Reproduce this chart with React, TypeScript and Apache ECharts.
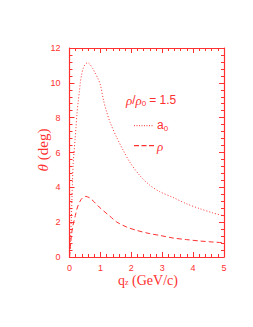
import React, { useEffect, useRef } from "react";
import * as echarts from "echarts";

const xTicks = [0, 1, 2, 3, 4, 5];
const yTicks = [0, 2, 4, 6, 8, 10, 12];

const a0Curve: [number, number][] = [
  [0, 0], [0.03, 0.9], [0.06, 2.2], [0.09, 4.0], [0.12, 5.4], [0.15, 6.1],
  [0.18, 6.75], [0.21, 7.45], [0.24, 8.2], [0.28, 8.9], [0.32, 9.5],
  [0.35, 10.0], [0.39, 10.45], [0.45, 10.87], [0.51, 11.06], [0.586, 11.16],
  [0.66, 11.06], [0.75, 10.83], [0.83, 10.56], [0.92, 10.25], [1.0, 9.88],
  [1.1, 9.0], [1.2, 8.35], [1.31, 7.75], [1.52, 6.89], [1.74, 6.12],
  [1.95, 5.45], [2.27, 4.69], [2.6, 4.12], [2.92, 3.75], [3.35, 3.42],
  [3.78, 3.06], [4.21, 2.78], [4.64, 2.53], [5.0, 2.36],
];

const rhoCurve: [number, number][] = [
  [0, 0], [0.03, 0.6], [0.06, 1.2], [0.1, 1.72], [0.15, 2.1], [0.19, 2.39],
  [0.26, 2.87], [0.37, 3.29], [0.51, 3.48], [0.64, 3.41], [0.8, 3.16],
  [0.96, 2.87], [1.18, 2.53], [1.31, 2.34], [1.52, 2.02], [1.85, 1.72],
  [2.17, 1.53], [2.6, 1.34], [2.92, 1.24], [3.35, 1.09], [3.78, 1.0],
  [4.21, 0.92], [4.64, 0.86], [5.0, 0.82],
];

const RED = "#ff3030";

export default function App() {
  const ref = useRef<HTMLDivElement>(null);
  useEffect(() => {
    document.body.style.margin = "0";
    const chart = echarts.init(ref.current!, null, { renderer: "svg" });
    const axisCommon = {
      axisLine: { show: true, onZero: false, lineStyle: { color: RED, width: 1.2 } },
      axisTick: { show: true, inside: true, length: 5, lineStyle: { color: RED, width: 1 } },
      minorTick: { show: true, splitNumber: 5, length: 3, lineStyle: { color: RED, width: 1 } },
      splitLine: { show: false },
    };
    const labelStyle = { color: RED, fontSize: 9, fontFamily: "Liberation Sans" };
    chart.setOption({
      animation: false,
      grid: { left: 69.5, right: 29, top: 48, bottom: 70 },
      xAxis: [
        {
          type: "value", min: 0, max: 5, interval: 1, position: "bottom",
          ...axisCommon,
          axisLabel: { ...labelStyle, margin: 6, formatter: (v: number) => (xTicks.includes(v) ? String(v) : "") },
        },
        {
          type: "value", min: 0, max: 5, interval: 1, position: "top",
          ...axisCommon, axisLabel: { show: false },
        },
      ],
      yAxis: [
        {
          type: "value", min: 0, max: 12, interval: 2, position: "left",
          ...axisCommon,
          axisLabel: { ...labelStyle, margin: 9, formatter: (v: number) => (yTicks.includes(v) ? String(v) : "") },
        },
        {
          type: "value", min: 0, max: 12, interval: 2, position: "right",
          ...axisCommon, axisLabel: { show: false },
        },
      ],
      series: [
        {
          type: "line", name: "a0", data: a0Curve, showSymbol: false, smooth: 0.3,
          lineStyle: { color: RED, width: 1, type: [1, 2] },
        },
        {
          type: "line", name: "rho", data: rhoCurve, showSymbol: false, smooth: 0.3,
          lineStyle: { color: RED, width: 1, type: [5, 3] },
        },
      ],
      graphic: [
        {
          type: "text", x: 126, y: 100,
          style: {
            text: "{i|ρ}{n|/}{i|ρ}{s|0}{n|= 1.5}",
            verticalAlign: "middle",
            rich: {
              i: { fill: RED, fontSize: 13, fontStyle: "italic", fontFamily: "Liberation Serif" },
              n: { fill: RED, fontSize: 12, fontFamily: "Liberation Sans" },
              s: { fill: RED, fontSize: 8, fontFamily: "Liberation Sans", padding: [6, 3, 0, 0] },
            },
          },
        },
        {
          type: "line", shape: { x1: 134, y1: 125.7, x2: 154, y2: 125.7 },
          style: { stroke: RED, lineWidth: 1, lineDash: [1, 1.5] },
        },
        {
          type: "text", x: 157, y: 125,
          style: {
            text: "{n|a}{s|0}", verticalAlign: "middle",
            rich: {
              n: { fill: RED, fontSize: 12, fontFamily: "Liberation Sans" },
              s: { fill: RED, fontSize: 8, fontFamily: "Liberation Sans", padding: [6, 0, 0, 0] },
            },
          },
        },
        {
          type: "line", shape: { x1: 134, y1: 145.7, x2: 154, y2: 145.7 },
          style: { stroke: RED, lineWidth: 1.2, lineDash: [5, 2.5] },
        },
        {
          type: "text", x: 157, y: 146,
          style: {
            text: "ρ", verticalAlign: "middle", fill: RED, fontSize: 13,
            fontStyle: "italic", fontFamily: "Liberation Serif",
          },
        },
        {
          type: "text", x: 148, y: 280,
          style: {
            text: "{n|q}{s|z}{n| (GeV/c)}", align: "center", verticalAlign: "middle",
            rich: {
              n: { fill: RED, fontSize: 14, fontFamily: "Liberation Serif" },
              s: { fill: RED, fontSize: 8, fontFamily: "Liberation Serif", padding: [4, 0, 0, 0] },
            },
          },
        },
        {
          type: "text", x: 42.5, y: 150, rotation: Math.PI / 2,
          style: {
            text: "{i|θ}{n| (deg)}", align: "center", verticalAlign: "middle",
            rich: {
              i: { fill: RED, fontSize: 15, fontStyle: "italic", fontFamily: "Liberation Serif" },
              n: { fill: RED, fontSize: 15, fontFamily: "Liberation Serif" },
            },
          },
        },
      ],
    });
    return () => chart.dispose();
  }, []);
  return <div ref={ref} style={{ width: 253, height: 327 }} />;
}
